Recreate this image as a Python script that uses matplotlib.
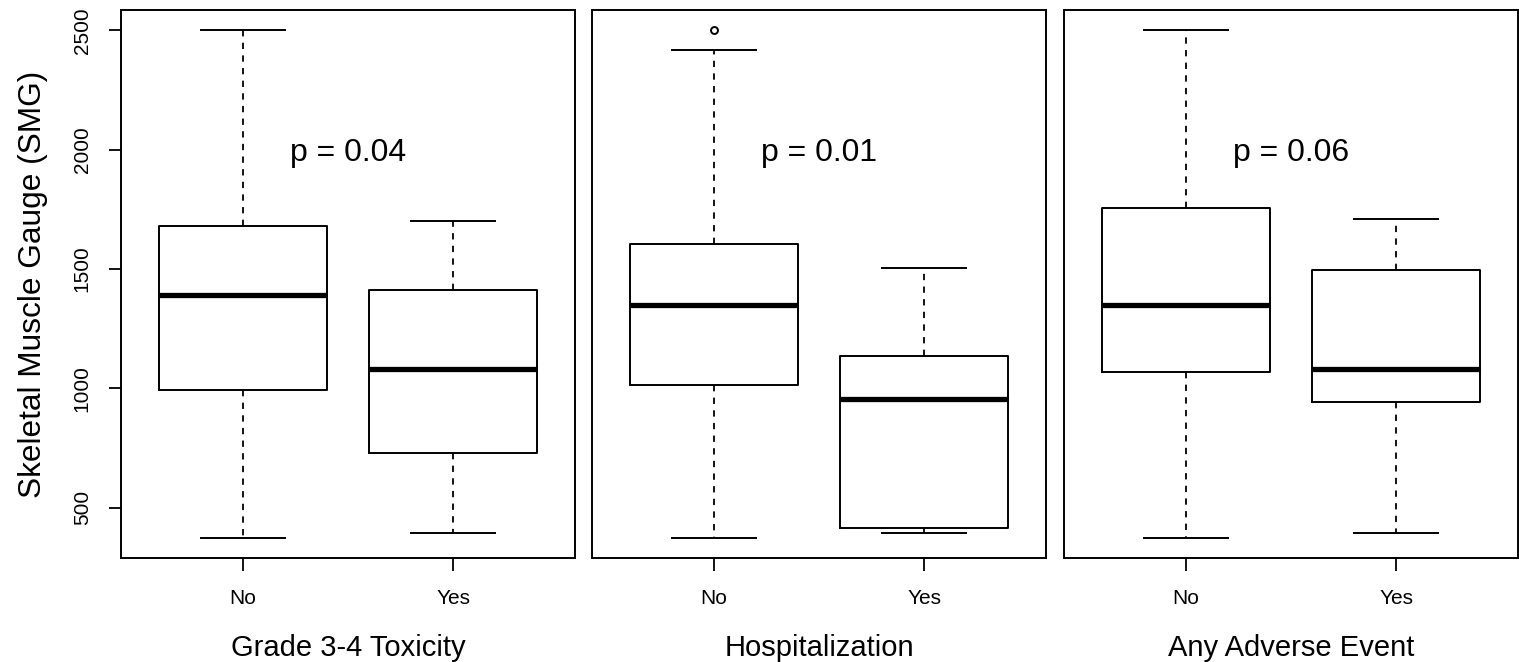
import matplotlib
matplotlib.use("Agg")
import matplotlib.pyplot as plt

plt.rcParams["font.family"] = ["Liberation Sans", "DejaVu Sans"]

groups = ["No", "Yes"]
panel_titles = ["Grade 3-4 Toxicity", "Hospitalization", "Any Adverse Event"]
p_values = ["p = 0.04", "p = 0.01", "p = 0.06"]

# five-number summaries per panel: [No, Yes]
whislo = [[374, 395], [374, 395], [374, 395]]
q1 = [[991, 731], [1012, 416], [1070, 944]]
med = [[1389, 1079], [1347, 957], [1347, 1079]]
q3 = [[1678, 1410], [1603, 1137], [1754, 1494]]
whishi = [[2500, 1699], [2416, 1506], [2500, 1708]]
fliers = [[[], []], [[2500], []], [[], []]]

yticks = [500, 1000, 1500, 2000, 2500]

fig = plt.figure(figsize=(15.19, 6.62), dpi=100)
lefts = [121 / 1519, 592 / 1519, 1064 / 1519]
w = 454 / 1519
bottom = 1 - 558 / 662
h = 548 / 662

for i in range(3):
    ax = fig.add_axes([lefts[i], bottom, w, h])
    stats = []
    for j in range(2):
        stats.append(dict(whislo=whislo[i][j], q1=q1[i][j], med=med[i][j],
                          q3=q3[i][j], whishi=whishi[i][j], fliers=fliers[i][j]))
    ax.bxp(stats, positions=[1, 2], widths=0.8, capwidths=0.4,
           boxprops=dict(color="black", linewidth=1.4),
           medianprops=dict(color="black", linewidth=3.8, solid_capstyle="butt"),
           whiskerprops=dict(color="black", linewidth=1.3, linestyle=(0, (3.5, 3.5))),
           capprops=dict(color="black", linewidth=1.4),
           flierprops=dict(marker="o", markersize=5, markerfacecolor="none",
                           markeredgecolor="black", markeredgewidth=1.4))
    ax.set_xlim(0.42, 2.58)
    ax.set_ylim(289, 2585)
    ax.set_xticks([1, 2])
    ax.set_xticklabels(groups, fontsize=15)
    ax.tick_params(axis="x", length=9, width=1.3, pad=13)
    for s in ax.spines.values():
        s.set_linewidth(1.4)
    if i == 0:
        ax.set_yticks(yticks)
        ax.set_yticklabels([str(t) for t in yticks], fontsize=15, rotation=90, va="center")
        ax.tick_params(axis="y", length=9, width=1.3, pad=12)
        ax.set_ylabel("Skeletal Muscle Gauge (SMG)", fontsize=22.8, labelpad=18)
    else:
        ax.set_yticks([])
    ax.set_xlabel(panel_titles[i], fontsize=21, labelpad=19)
    ax.text(1.5, 1985, p_values[i], fontsize=23, ha="center", va="center")

fig.savefig("out.png", dpi=100)
